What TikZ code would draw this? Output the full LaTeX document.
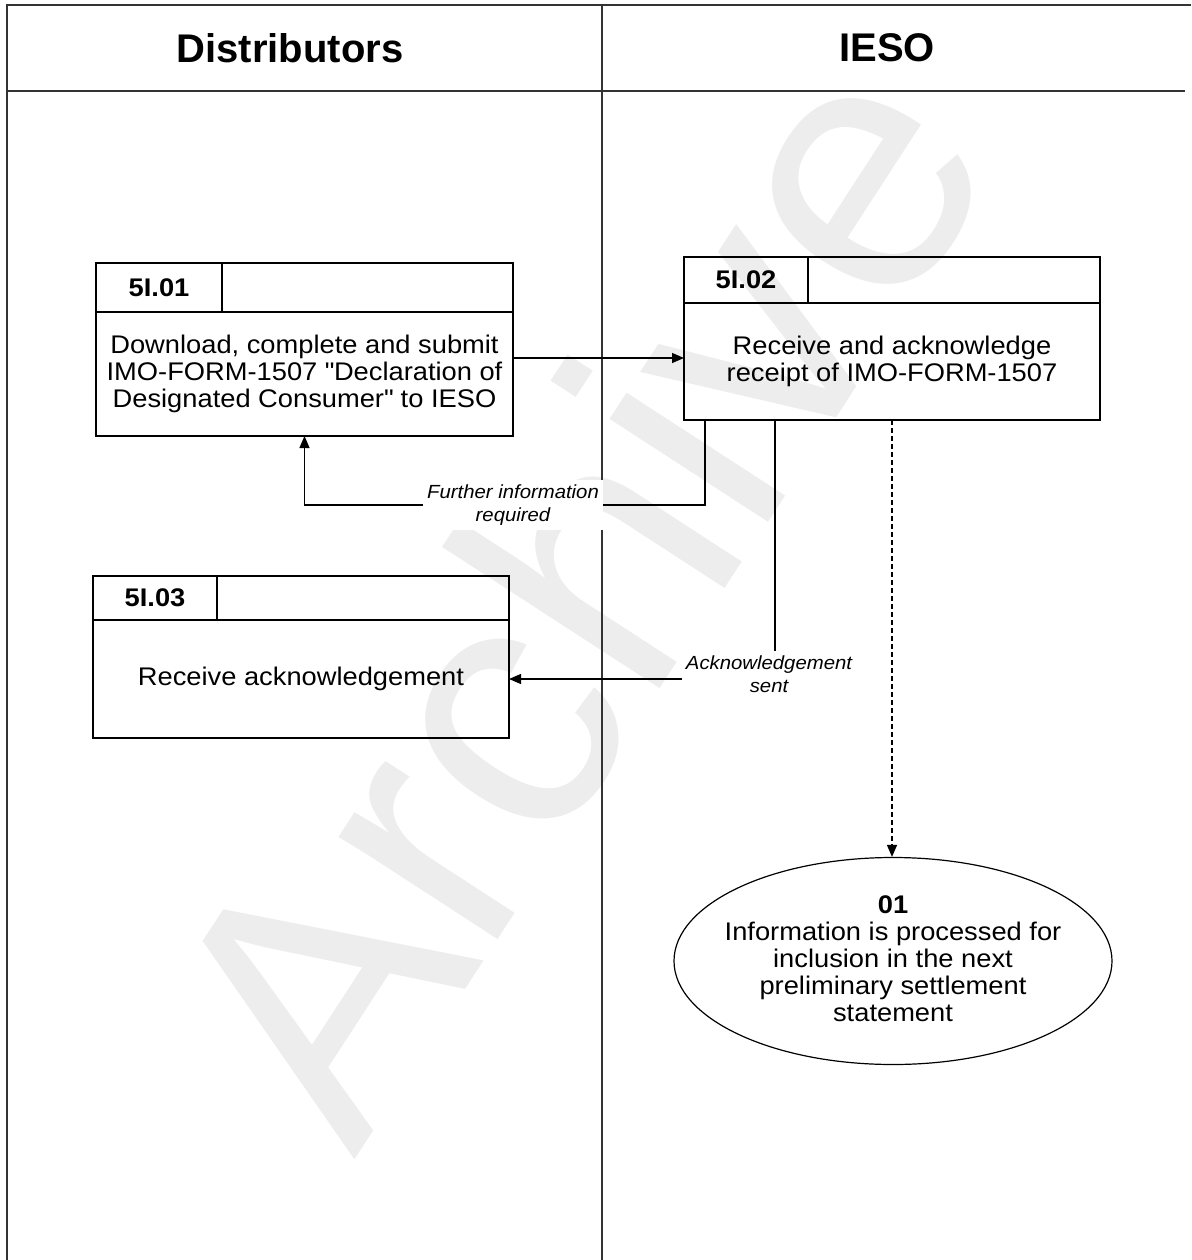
\documentclass[tikz,border=0pt]{standalone}
\usepackage{fontspec}
\setmainfont{Liberation Sans}[FakeStretch=1.07]
\newfontfamily\plainsans{Liberation Sans}
\usetikzlibrary{arrows.meta,shapes.geometric,calc}
\tikzset{
  lane/.style={line width=1.6pt, draw=black!80},
  box/.style={draw, line width=1.4pt, inner sep=0pt, outer sep=0pt},
  bodytext/.style={align=center, font=\fontsize{25.5}{27}\selectfont},
  idtext/.style={font=\fontsize{25.5}{27}\selectfont\bfseries},
  conn/.style={line width=1.3pt},
  arr/.style={conn, -{Triangle[length=12pt,width=10pt]}},
  lab/.style={fill=white, align=center, font=\fontsize{19}{23}\selectfont\itshape, inner xsep=4pt, inner ysep=5pt},
  lanehdr/.style={font=\plainsans\fontsize{40}{44}\selectfont\bfseries},
  wmark/.style={text=black!7, font=\plainsans\fontsize{358}{358}\selectfont, inner sep=0pt}
}
\begin{document}
\begin{tikzpicture}[x=1pt,y=-1pt]
\useasboundingbox (0,0) rectangle (1191,1260);
% watermark
\node[wmark, rotate=57] (wm) at (572,590) {Archive};
% lanes
\draw[lane] (7,1260) -- (7,5) -- (1191,5);
\draw[lane] (7,91) -- (1185,91);
\draw[lane] (602,5) -- (602,1260);
\node[lanehdr] (hdist) at (290,48) {Distributors};
\node[lanehdr] (hieso) at (887,48) {IESO};
% box 5I.01
\node[box, bodytext, minimum width=417pt, minimum height=124pt] (b1) at (304.5,374) {Download, complete and submit\\IMO-FORM-1507 \textquotedbl Declaration of\\Designated Consumer\textquotedbl\ to IESO};
\node[box, idtext, minimum width=126pt, minimum height=49pt, anchor=south west] (b1id) at (b1.north west) {5I.01};
\node[box, minimum width=291pt, minimum height=49pt, anchor=south west] (b1hd) at (b1id.south east) {};
% box 5I.02
\node[box, bodytext, minimum width=416pt, minimum height=117pt] (b2) at (892,361.5) {Receive and acknowledge\\receipt of IMO-FORM-1507};
\node[box, idtext, minimum width=124pt, minimum height=46pt, anchor=south west] (b2id) at (b2.north west) {5I.02};
\node[box, minimum width=292pt, minimum height=46pt, anchor=south west] (b2hd) at (b2id.south east) {};
% box 5I.03
\node[box, bodytext, minimum width=416pt, minimum height=118pt] (b3) at (301,679) {Receive acknowledgement};
\node[box, idtext, minimum width=124pt, minimum height=44pt, anchor=south west] (b3id) at (b3.north west) {5I.03};
\node[box, minimum width=292pt, minimum height=44pt, anchor=south west] (b3hd) at (b3id.south east) {};
% end ellipse
\node[draw, ellipse, line width=1.2pt, minimum width=438pt, minimum height=207pt, inner sep=0pt] (e1) at (893,961) {};
\node[bodytext, inner sep=0pt] (e1t) at ([yshift=2.5pt]e1.center) {\textbf{01}\\Information is processed for\\inclusion in the next\\preliminary settlement\\statement};
% connectors
\draw[arr] ([yshift=16pt]b1.east) -- ([yshift=16pt]b1.east -| b2.west);
\node[lab] (lab1) at (513,505) {Further information\\required};
\draw[conn] ([xshift=-187pt]b2.south) |- (lab1.east);
\draw[arr] (lab1.west) -| (b1.south);
\draw[arr] ([xshift=-117pt]b2.south) |- node[lab, pos=0.5, xshift=-6pt, yshift=5pt] (lab2) {Acknowledgement\\sent} (b3.east);
\draw[arr, dash pattern=on 5pt off 3pt] (b2.south) -- (b2.south |- e1.north);
\end{tikzpicture}
\end{document}
